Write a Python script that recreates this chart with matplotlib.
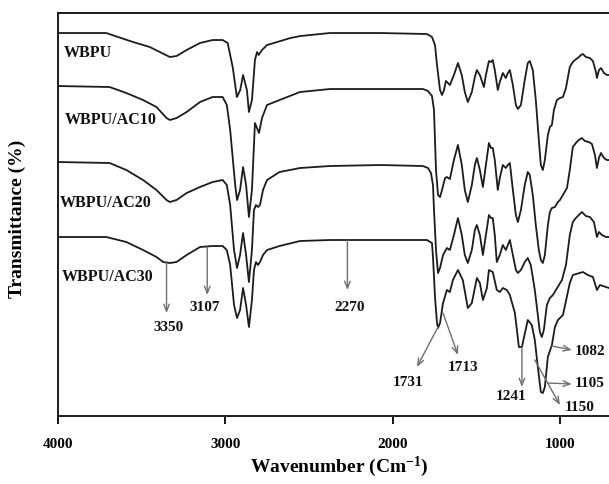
import matplotlib
matplotlib.use("Agg")
import matplotlib.pyplot as plt

plt.rcParams['font.family'] = ['Liberation Serif', 'DejaVu Serif']
plt.rcParams['font.weight'] = 'bold'
plt.rcParams['mathtext.fontset'] = 'custom'
plt.rcParams['mathtext.rm'] = 'Liberation Serif:bold'
plt.rcParams['mathtext.bf'] = 'Liberation Serif:bold'
plt.rcParams['mathtext.default'] = 'bf'

# FTIR spectra (wavenumber in cm-1, stacked transmittance in a.u.)
wn_s1 = [4000, 3870, 3710, 3550, 3450, 3390, 3330, 3290, 3230, 3150, 3075, 3015, 2985, 2955,
         2930, 2910, 2893, 2870, 2858, 2840, 2822, 2810, 2800, 2780, 2750, 2690, 2610, 2550,
         2375, 2075, 1795, 1765, 1747, 1735, 1717, 1705, 1693, 1682, 1670, 1658, 1634, 1610,
         1587, 1569, 1551, 1527, 1509, 1497, 1479, 1455, 1443, 1425, 1413, 1402, 1390, 1372,
         1360, 1342, 1324, 1312, 1300, 1282, 1264, 1252, 1234, 1211, 1193, 1181, 1163, 1145,
         1127, 1115, 1103, 1091, 1073, 1061, 1049, 1037, 1019, 1001, 983, 965, 942, 924, 912,
         894, 876, 864, 846, 822, 804, 786, 780, 768, 756, 738, 720, 700]
t_s1 = [383, 383, 383, 374, 369, 364, 359, 360, 366, 373, 376, 376, 373, 349,
        319, 326, 341, 326, 304, 316, 356, 364, 361, 366, 371, 374, 378, 380,
        383, 383, 382, 379, 371, 351, 326, 321, 326, 335, 333, 331, 341, 353,
        341, 324, 314, 324, 339, 346, 341, 329, 341, 355, 354, 356, 346, 326,
        334, 343, 338, 343, 346, 331, 311, 307, 311, 336, 353, 355, 346, 316,
        276, 251, 246, 256, 281, 289, 291, 306, 316, 318, 319, 328, 349, 354, 356,
        358, 361, 362, 359, 358, 355, 344, 338, 346, 348, 343, 341, 341]

wn_s2 = [4000, 3690, 3590, 3490, 3410, 3350, 3330, 3290, 3230, 3150, 3075, 3015, 2990, 2970,
         2940, 2929, 2911, 2893, 2875, 2858, 2840, 2822, 2810, 2798, 2780, 2750, 2675, 2553,
         2374, 2076, 1819, 1789, 1765, 1753, 1747, 1741, 1729, 1717, 1705, 1687, 1676, 1658,
         1634, 1610, 1587, 1569, 1551, 1527, 1509, 1497, 1479, 1461, 1443, 1425, 1413, 1402,
         1390, 1372, 1360, 1342, 1324, 1312, 1300, 1282, 1264, 1252, 1234, 1211, 1193, 1181,
         1163, 1145, 1127, 1115, 1103, 1091, 1073, 1061, 1049, 1031, 1013, 1001, 983, 959,
         942, 924, 906, 888, 870, 852, 828, 810, 792, 780, 768, 756, 738, 720, 700]
t_s2 = [330, 329, 323, 316, 309, 298, 296, 298, 304, 314, 319, 319, 311, 286,
        231, 216, 226, 249, 231, 199, 226, 293, 288, 283, 298, 311, 316, 324,
        327, 327, 327, 325, 320, 306, 276, 246, 221, 219, 226, 238, 239, 237,
        256, 271, 251, 226, 214, 231, 251, 258, 246, 229, 251, 273, 268, 268,
        256, 226, 238, 251, 248, 251, 253, 226, 201, 194, 206, 231, 244, 241,
        221, 191, 166, 156, 153, 161, 191, 204, 208, 209, 214, 216, 221, 228,
        246, 269, 273, 276, 278, 275, 274, 272, 261, 248, 258, 263, 258, 256, 256]

wn_s3 = [4000, 3690, 3590, 3490, 3410, 3350, 3330, 3290, 3230, 3150, 3075, 3015, 2990, 2970,
         2947, 2929, 2911, 2893, 2875, 2858, 2840, 2828, 2816, 2804, 2792, 2774, 2750, 2675,
         2553, 2374, 2076, 1819, 1789, 1771, 1759, 1753, 1741, 1729, 1717, 1699, 1676, 1658,
         1634, 1610, 1587, 1569, 1551, 1527, 1509, 1497, 1479, 1461, 1443, 1425, 1413, 1402,
         1390, 1378, 1360, 1342, 1324, 1312, 1300, 1282, 1264, 1252, 1234, 1211, 1193, 1175,
         1151, 1133, 1121, 1109, 1097, 1079, 1061, 1043, 1025, 1007, 989, 965, 942, 924, 906,
         888, 870, 846, 822, 798, 780, 768, 750, 726, 700]
t_s3 = [254, 253, 246, 236, 226, 216, 214, 216, 223, 229, 234, 236, 231, 211,
        166, 148, 161, 183, 161, 134, 166, 206, 211, 209, 211, 226, 236, 244,
        248, 250, 251, 250, 248, 243, 231, 206, 166, 143, 148, 161, 168, 166,
        181, 198, 181, 161, 153, 166, 186, 191, 181, 161, 181, 201, 198, 198,
        181, 154, 161, 171, 166, 171, 176, 161, 146, 143, 146, 154, 158, 151,
        126, 101, 84, 79, 86, 111, 118, 121, 126, 131, 136, 151, 181, 194, 198,
        201, 204, 200, 199, 194, 179, 184, 181, 179, 179]

wn_s4 = [4000, 3710, 3590, 3490, 3410, 3370, 3330, 3290, 3230, 3150, 3075, 3015, 2990, 2970,
         2947, 2929, 2911, 2893, 2875, 2858, 2840, 2828, 2816, 2804, 2792, 2774, 2750, 2675,
         2553, 2374, 2076, 1795, 1765, 1759, 1747, 1735, 1729, 1717, 1699, 1676, 1658, 1640,
         1610, 1581, 1551, 1527, 1497, 1479, 1461, 1437, 1425, 1402, 1378, 1360, 1342, 1318,
         1300, 1270, 1246, 1228, 1193, 1169, 1151, 1133, 1115, 1103, 1091, 1073, 1049, 1031,
         1013, 983, 942, 924, 864, 834, 804, 780, 762, 708, 700]
t_s4 = [179, 179, 174, 166, 159, 154, 153, 154, 161, 169, 170, 170, 166, 151,
        111, 98, 106, 128, 111, 89, 116, 146, 154, 151, 154, 161, 166, 170,
        175, 176, 176, 176, 173, 159, 119, 93, 88, 93, 113, 126, 124, 136,
        146, 136, 108, 113, 138, 133, 116, 128, 146, 144, 126, 124, 128, 126,
        121, 103, 69, 69, 96, 91, 76, 49, 24, 23, 29, 59, 71, 89,
        96, 101, 133, 141, 144, 141, 139, 126, 131, 128, 128]

sample_names = ['WBPU', 'WBPU/AC10', 'WBPU/AC20', 'WBPU/AC30']
name_pos = [(3962, 363), (3956, 296), (3986, 213), (3974, 139)]

# peak marks: text, arrow start, arrow end, text position, alignment
peak_marks = [
    ('3350', (3350, 153), (3350, 103), (3340, 89), 'center'),
    ('3107', (3107, 169), (3107, 121), (3120, 109), 'center'),
    ('2270', (2270, 176), (2270, 126), (2255, 109), 'center'),
    ('1731', (1729, 89), (1855, 49), (1908, 33), 'center'),
    ('1713', (1699, 103), (1610, 61), (1580, 49), 'center'),
    ('1241', (1228, 69), (1228, 29), (1294, 19), 'center'),
    ('1150', (1151, 56), (1001, 11), (882, 8), 'center'),
    ('1105', (1073, 33), (930, 32), (915, 32), 'left'),
    ('1082', (1049, 70), (930, 66), (915, 65), 'left'),
]

fig = plt.figure(figsize=(6.09, 4.84), dpi=100)
ax = fig.add_axes([0.0947, 0.1405, 0.990, 0.8326])

for wn, t in [(wn_s1, t_s1), (wn_s2, t_s2), (wn_s3, t_s3), (wn_s4, t_s4)]:
    ax.plot(wn, t, color='#1c1c1c', lw=1.3)

for name, (x, y) in zip(sample_names, name_pos):
    ax.text(x, y, name, fontsize=11.5, fontweight='bold', va='center', ha='left', color='#111')

for txt, start, end, tpos, ha in peak_marks:
    ax.annotate('', xy=end, xytext=start,
                arrowprops=dict(arrowstyle='->,head_length=0.5,head_width=0.2',
                                color='#707070', lw=1.0, shrinkA=0, shrinkB=0))
    ax.text(tpos[0], tpos[1], txt, fontsize=11, fontweight='bold', ha=ha, va='center',
            color='#111', clip_on=False)

ax.set_xlim(4000, 400)
ax.set_ylim(0, 403)
ax.set_xticks([4000, 3000, 2000, 1000])
ax.set_yticks([])
ax.tick_params(axis='x', direction='out', length=6, width=1.3, pad=10, labelsize=11)
for lab in ax.get_xticklabels():
    lab.set_fontweight('bold')
for sp in ax.spines.values():
    sp.set_linewidth(1.4)
    sp.set_color('#1c1c1c')

ax.set_xlabel(r'Wavenumber (Cm$^{-1}$)', fontsize=14, fontweight='bold')
ax.xaxis.set_label_coords(0.4665, -0.095)
ax.set_ylabel('Transmittance (%)', fontsize=14, fontweight='bold')
ax.yaxis.set_label_coords(-0.052, 0.49)

fig.savefig('out.png', dpi=100)
